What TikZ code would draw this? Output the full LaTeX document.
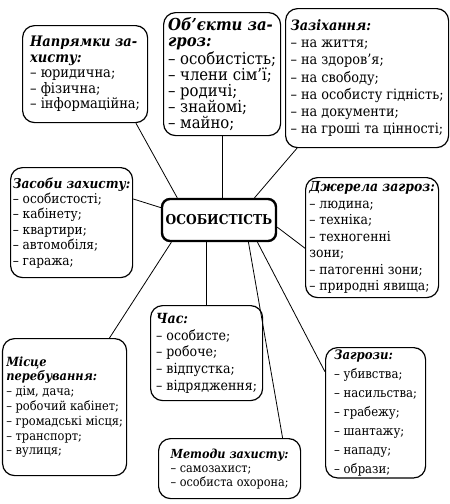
\documentclass[tikz,border=0pt]{standalone}
\usepackage{fontspec}
\setmainfont{DejaVu Serif Condensed}

\begin{document}
\begin{tikzpicture}[x=1pt,y=-1pt,
	blok/.style args={#1/#2}{draw,line width=1.2pt,rounded corners=12pt,anchor=north west,align=left,inner sep=2pt,font=\fontsize{#1}{#2}\selectfont},
	tema/.style={draw,line width=2.4pt,rounded corners=8pt,font=\fontsize{13.6}{15}\selectfont\bfseries,minimum width=114pt,minimum height=42pt},
	zv/.style={line width=0.8pt}]
		\useasboundingbox (0,0) rectangle (450,504);
		% center
		\node[tema] (osob) at (219,220) {ОСОБИСТІСТЬ};
		% top row
		\node[blok=14.5/15.5,minimum width=125pt,minimum height=97pt] (naprjam) at (22,25) {\textbf{\textit{Напрямки за-}}\\\textbf{\textit{хисту:}}\\– юридична;\\– фізична;\\– інформаційна;};
		\node[blok=16.5/16,minimum width=117pt,minimum height=123pt] (obj) at (163,12) {\textbf{\textit{Об’єкти за-}}\\\textbf{\textit{гроз:}}\\– особистість;\\– члени сім’ї;\\– родичі;\\– знайомі;\\– майно;};
		\node[blok=14.3/17.3,minimum width=163pt,minimum height=139pt] (zaz) at (285,8) {\textbf{\textit{Зазіхання:}}\\– на життя;\\– на здоров’я;\\– на свободу;\\– на особисту гідність;\\– на документи;\\– на гроші та цінності;};
		% middle row
		\node[blok=13.5/15.4,minimum width=122pt,minimum height=110pt] (zasob) at (10,167) {\textbf{\textit{Засоби захисту:}}\\– особистості;\\– кабінету;\\– квартири;\\– автомобіля;\\– гаража;};
		\node[blok=13.8/16.5,minimum width=133pt,minimum height=120pt] (dzh) at (305,177) {\textbf{\textit{Джерела загроз:}}\\– людина;\\– техніка;\\– техногенні\\зони;\\– патогенні зони;\\– природні явища;};
		% bottom row
		\node[blok=12.7/14.8,minimum width=124pt,minimum height=137pt] (misce) at (2,338) {\textbf{\textit{Місце}}\\\textbf{\textit{перебування:}}\\– дім, дача;\\– робочий кабінет;\\– громадські місця;\\– транспорт;\\– вулиця;};
		\node[blok=14/16.7,minimum width=112pt,minimum height=95pt] (chas) at (150,305) {\textbf{\textit{Час:}}\\– особисте;\\– робоче;\\– відпустка;\\– відрядження;};
		\node[blok=13/19,minimum width=100pt,minimum height=130pt] (zagr) at (325,347) {\textbf{\textit{Загрози:}}\\– убивства;\\– насильства;\\– грабежу;\\– шантажу;\\– нападу;\\– образи;};
		\node[blok=12.5/14,minimum width=142pt,minimum height=60pt] (metod) at (158,438) {\textbf{\textit{Методи захисту:}}\\– самозахист;\\– особиста охорона;};
		% connectors
		\draw[zv] (naprjam.-44) -- (osob.152);
		\draw[zv] (obj.south) -- (obj.south |- osob.north);
		\draw[zv] (zaz.225) -- (osob.32);
		\draw[zv] (zasob.21) -- (osob.168);
		\draw[zv] (dzh.189) -- (osob.-7);
		\draw[zv] (misce.57) -- (osob.205);
		\draw[zv] (chas.north) -- (chas.north |- osob.south);
		\draw[zv] (zagr.141) -- (osob.-30);
		\draw[zv] (metod.30) -- (osob.-37);
\end{tikzpicture}
\end{document}
